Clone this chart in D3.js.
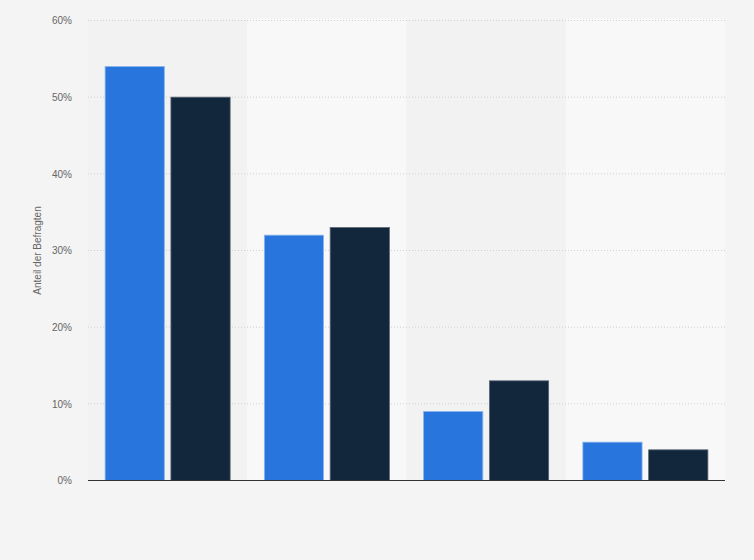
<!DOCTYPE html>
<html>
<head>
<meta charset="utf-8">
<script src="https://cdn.jsdelivr.net/npm/d3@7"></script>
<style>
  body { margin: 0; background: #f4f4f4; }
  text { font-family: Arial, "Liberation Sans", sans-serif; }
</style>
</head>
<body>
<div id="chart"></div>
<script>
// values (share of respondents, %)
var categories = ["A", "B", "C", "D"];
var seriesKeys = ["s1", "s2"];
var series1 = [54, 32, 9, 5];
var series2 = [50, 33, 13, 4];
var yTicks = [0, 10, 20, 30, 40, 50, 60];

var margin = {top: 20.5, right: 29, bottom: 79.5, left: 88},
    width = 754 - margin.left - margin.right,
    height = 560 - margin.top - margin.bottom;

var svg = d3.select("#chart")
  .append("svg")
    .attr("width", 754)
    .attr("height", 560)
  .append("g")
    .attr("transform", "translate(" + margin.left + "," + margin.top + ")");

var data = categories.map(function(c, i) {
  return {cat: c, s1: series1[i], s2: series2[i]};
});

var x = d3.scaleBand()
    .domain(categories)
    .range([0, width]);

var xInner = d3.scaleBand()
    .domain(seriesKeys)
    .range([0, x.bandwidth()])
    .paddingOuter(0.26)
    .paddingInner(0.1);

var y = d3.scaleLinear()
    .domain([0, 60])
    .range([height, 0]);

var color = d3.scaleOrdinal()
    .domain(seriesKeys)
    .range(["#2876dd", "#12263c"]);
var strokeColor = d3.scaleOrdinal()
    .domain(seriesKeys)
    .range(["#8ab6ee", "#5a6675"]);

// alternating column bands
svg.append("g")
  .selectAll("rect")
  .data(categories)
  .enter().append("rect")
    .attr("x", function(d) { return x(d); })
    .attr("y", -1.5)
    .attr("width", x.bandwidth())
    .attr("height", height + 1.5)
    .attr("fill", function(d, i) { return i % 2 ? "#f8f8f8" : "#f2f2f2"; });

// gridlines
svg.append("g")
  .selectAll("line")
  .data(yTicks.slice(1))
  .enter().append("line")
    .attr("x1", 0)
    .attr("x2", width)
    .attr("y1", function(d) { return y(d); })
    .attr("y2", function(d) { return y(d); })
    .attr("stroke", "#d0d0d0")
    .attr("stroke-dasharray", "1,2");

// y axis labels
var yAxis = svg.append("g")
  .call(d3.axisLeft(y).tickValues(yTicks).tickSize(0).tickPadding(16)
    .tickFormat(function(d) { return d + "%"; }));
yAxis.select(".domain").remove();
yAxis.selectAll("text")
  .attr("fill", "#666")
  .style("font-size", "10px");

svg.append("text")
  .attr("transform", "rotate(-90)")
  .attr("x", -height / 2)
  .attr("y", -47)
  .attr("text-anchor", "middle")
  .attr("fill", "#666")
  .style("font-size", "10px")
  .text("Anteil der Befragten");

// bars
svg.append("g")
  .selectAll("g")
  .data(data)
  .enter().append("g")
    .attr("transform", function(d) { return "translate(" + x(d.cat) + ",0)"; })
  .selectAll("rect")
  .data(function(d) { return seriesKeys.map(function(k) { return {key: k, value: d[k]}; }); })
  .enter().append("rect")
    .attr("x", function(d) { return xInner(d.key); })
    .attr("y", function(d) { return y(d.value); })
    .attr("width", xInner.bandwidth())
    .attr("height", function(d) { return height - y(d.value); })
    .attr("fill", function(d) { return color(d.key); })
    .attr("stroke", function(d) { return strokeColor(d.key); })
    .attr("stroke-width", 0.8);

// baseline
svg.append("line")
  .attr("x1", 0)
  .attr("x2", width)
  .attr("y1", height)
  .attr("y2", height)
  .attr("stroke", "#333")
  .attr("stroke-width", 1.2);
</script>
</body>
</html>
